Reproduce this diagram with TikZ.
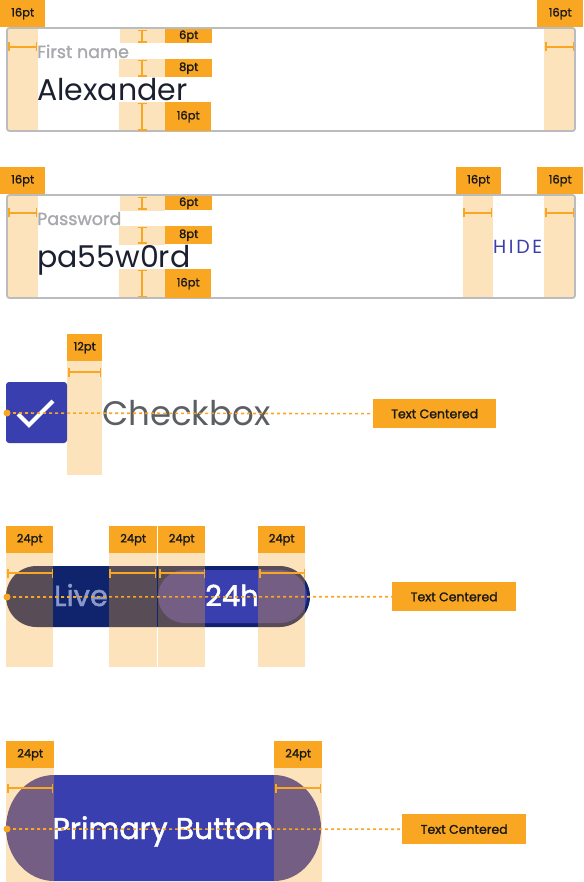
\documentclass[tikz,border=0pt]{standalone}
\usepackage{fontspec}
\setmainfont{Poppins}
\usepackage{tikz}
\usetikzlibrary{arrows.meta}
\usepackage{xcolor}
\definecolor{tagorange}{HTML}{F9A623}
\definecolor{fieldgray}{HTML}{BABCBF}
\definecolor{hintgray}{HTML}{A8A9AC}
\definecolor{inkdark}{HTML}{1B2030}
\definecolor{brandblue}{HTML}{3A3FAF}
\definecolor{navy}{HTML}{10246E}
\definecolor{livegray}{HTML}{8B99C9}
\definecolor{boxgray}{HTML}{5B5E63}
\newcommand\medium{\addfontfeature{FakeBold=1.5}}

\begin{document}
\begin{tikzpicture}[x=1pt,y=-1pt,line cap=butt,
  tag/.style={fill=tagorange,inner sep=0pt,anchor=north west,text=black!90,font=\fontsize{11.5}{11.5}\selectfont\medium},
  bigtag/.style={tag,font=\fontsize{12.5}{12.5}\selectfont\medium,minimum height=29pt},
  band/.style={fill=tagorange,fill opacity=0.31},
  meas/.style={tagorange,line width=1.5pt,{Bar[width=9pt,line width=1.5pt]}-{Bar[width=9pt,line width=1.5pt]}},
  guide/.style={tagorange,line width=1.6pt,dash pattern=on 3pt off 3pt},
  field/.style={draw=fieldgray,line width=1.8pt,rounded corners=2.5pt},
  copy/.style={inner sep=0pt,anchor=base west}]
\useasboundingbox (0,0) rectangle (583,882);

% first name field
\fill[band] (8,29) rectangle (38,130);
\fill[band] (544,29) rectangle (574,130);
\fill[band] (120,29) rectangle (165,43);
\fill[band] (119,59) rectangle (165,77);
\fill[band] (119,102) rectangle (165,131);
\draw[field] (7,28) rectangle (575,131);
\node[copy,text=hintgray,font=\fontsize{17.5}{17.5}\selectfont\medium] (fnhint) at (37,58) {First name};
\node[copy,text=inkdark,font=\fontsize{30}{30}\selectfont] (fnvalue) at (37,101) {Alexander};
\node[tag,minimum width=45pt,minimum height=27pt] (fnl) at (0,0) {16pt};
\node[tag,minimum width=46pt,minimum height=27pt] (fnr) at (537,0) {16pt};
\node[tag,minimum width=47pt,minimum height=14pt] (fna) at (165,29) {6pt};
\node[tag,minimum width=47pt,minimum height=18pt] (fnb) at (165,59) {8pt};
\node[tag,minimum width=46pt,minimum height=29pt] (fnc) at (165,102) {16pt};
\draw[meas] (8,47) -- (37,47);
\draw[meas] (545,47) -- (574,47);
\draw[meas] (142,30) -- (142,43);
\draw[meas] (142,60) -- (142,77);
\draw[meas] (142,103) -- (142,131);

% password field
\fill[band] (8,196) rectangle (38,297);
\fill[band] (463,196) rectangle (493,297);
\fill[band] (544,196) rectangle (574,297);
\fill[band] (120,196) rectangle (165,211);
\fill[band] (119,226) rectangle (165,245);
\fill[band] (119,269) rectangle (165,298);
\draw[field] (7,195) rectangle (575,298);
\node[copy,text=hintgray,font=\fontsize{17.5}{17.5}\selectfont\medium] (pwhint) at (37,225) {Password};
\node[copy,text=inkdark,font=\fontsize{30}{30}\selectfont] (pwvalue) at (37,268) {pa55w0rd};
\node[copy,text=brandblue,font=\fontsize{19}{19}\selectfont\addfontfeature{LetterSpace=14}] (pwhide) at (493,254) {HIDE};
\node[tag,minimum width=45pt,minimum height=27pt] (pwl) at (0,167) {16pt};
\node[tag,minimum width=45pt,minimum height=27pt] (pwm) at (456,167) {16pt};
\node[tag,minimum width=46pt,minimum height=27pt] (pwr) at (537,167) {16pt};
\node[tag,minimum width=47pt,minimum height=14pt] (pwa) at (165,196) {6pt};
\node[tag,minimum width=47pt,minimum height=18pt] (pwb) at (165,226) {8pt};
\node[tag,minimum width=46pt,minimum height=29pt] (pwc) at (165,269) {16pt};
\draw[meas] (8,213) -- (37,213);
\draw[meas] (463,213) -- (492,213);
\draw[meas] (545,213) -- (574,213);
\draw[meas] (142,197) -- (142,210);
\draw[meas] (142,227) -- (142,244);
\draw[meas] (142,270) -- (142,297);

% checkbox
\fill[band] (67,361) rectangle (102,475);
\fill[brandblue,rounded corners=3pt] (6,382) rectangle (67,443);
\draw[white,line width=4pt] (18,414) -- (29,425) -- (53,401);
\node[copy,text=boxgray,font=\fontsize{34}{34}\selectfont] (cbtext) at (102,425) {Checkbox};
\node[tag,minimum width=35pt,minimum height=27pt] (cbgap) at (67,334) {12pt};
\draw[meas] (68,372) -- (101,372);
\node[bigtag,minimum width=123pt] (cbtc) at (373,399) {Text Centered};
\coordinate (cbdot) at (7,413);
\fill[tagorange] (cbdot) circle (3.5);
\draw[guide] (cbdot) -- (cbtc.west);

% toggle
\fill[navy,rounded corners=30.5pt] (6,566) rectangle (310,627);
\fill[brandblue,rounded corners=26.5pt] (158,570) rectangle (307,623);
\fill[band] (6,553) rectangle (53,667);
\fill[band] (109,553) rectangle (157,667);
\fill[band] (158,553) rectangle (205,667);
\fill[band] (258,553) rectangle (305,667);
\node[anchor=base,inner sep=0pt,text=livegray,font=\fontsize{29}{29}\selectfont\medium] (tglive) at (81,606) {Live};
\node[anchor=base,inner sep=0pt,text=white,font=\fontsize{29}{29}\selectfont\medium] (tgday) at (232,606) {24h};
\node[tag,minimum width=47pt,minimum height=27pt] (tga) at (6,526) {24pt};
\node[tag,minimum width=48pt,minimum height=27pt] (tgb) at (109,526) {24pt};
\node[tag,minimum width=47pt,minimum height=27pt] (tgc) at (158,526) {24pt};
\node[tag,minimum width=47pt,minimum height=27pt] (tgd) at (258,526) {24pt};
\draw[meas] (7,573) -- (53,573);
\draw[meas] (109,573) -- (156,573);
\draw[meas] (159,573) -- (205,573);
\draw[meas] (259,573) -- (305,573);
\node[bigtag,minimum width=124pt] (tgtc) at (392,582) {Text Centered};
\coordinate (tgdot) at (7,597);
\fill[tagorange] (tgdot) circle (3.5);
\draw[guide] (tgdot) -- (tgtc.west);

% primary button
\fill[brandblue] (54,775) -- (274,775) arc[start angle=-90,end angle=90,x radius=47,y radius=53]
  -- (54,881) arc[start angle=90,end angle=270,x radius=48,y radius=53] -- cycle;
\fill[band] (6,768) rectangle (54,882);
\fill[band] (274,768) rectangle (322,882);
\node[anchor=base,inner sep=0pt,text=white,font=\fontsize{30}{30}\selectfont\medium] (btntext) at (163,839) {Primary Button};
\node[tag,minimum width=48pt,minimum height=27pt] (btnl) at (6,741) {24pt};
\node[tag,minimum width=48pt,minimum height=27pt] (btnr) at (274,741) {24pt};
\draw[meas] (7,788) -- (53,788);
\draw[meas] (275,788) -- (321,788);
\node[bigtag,minimum width=124pt,minimum height=30pt] (btntc) at (402,814) {Text Centered};
\coordinate (btndot) at (7,829);
\fill[tagorange] (btndot) circle (3.5);
\draw[guide] (btndot) -- (btntc.west);
\end{tikzpicture}
\end{document}
